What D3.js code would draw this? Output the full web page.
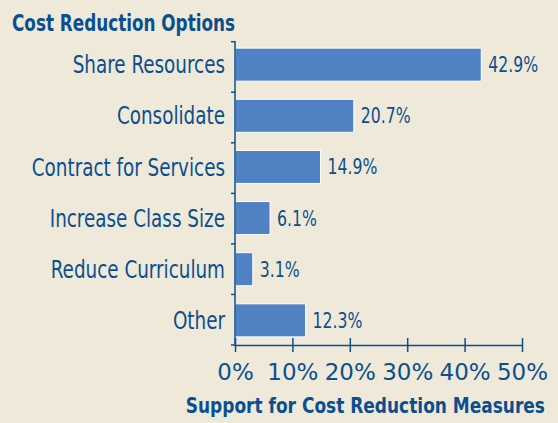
<!DOCTYPE html>
<html>
<head>
<meta charset="utf-8">
<script src="https://cdn.jsdelivr.net/npm/d3@7"></script>
<style>
  body { margin: 0; background: #efe9da; }
  svg { display: block; }
  .lab { font-family: "DejaVu Sans Condensed", "Liberation Sans Narrow", sans-serif; fill: #0b4f8f; }
  .ttl { font-family: "DejaVu Sans Condensed", "Liberation Sans Narrow", sans-serif; font-weight: bold; fill: #0b4f8f; }
</style>
</head>
<body>
<svg id="chart" width="558" height="423"></svg>
<script>
// data
const categories = ["Share Resources", "Consolidate", "Contract for Services", "Increase Class Size", "Reduce Curriculum", "Other"];
const values = [42.9, 20.7, 14.9, 6.1, 3.1, 12.3];
const xTicks = [0, 10, 20, 30, 40, 50];

const svg = d3.select("#chart");
const ink = "#0b4f8f";

const x = d3.scaleLinear().domain([0, 50]).range([235, 522]);
const y = d3.scaleBand().domain(categories).range([42, 343]).paddingInner(0.354).paddingOuter(0.12);

// squeeze text horizontally to mimic the condensed face of the original
function condense(sel, f) {
  sel.each(function() {
    const w = this.getComputedTextLength();
    d3.select(this).attr("textLength", w * f).attr("lengthAdjust", "spacingAndGlyphs");
  });
}

// title
svg.append("text").attr("class", "ttl")
  .attr("x", 12).attr("y", 31)
  .attr("font-size", 23)
  .text("Cost Reduction Options")
  .attr("textLength", 223).attr("lengthAdjust", "spacingAndGlyphs");

// bars
svg.selectAll(".bar")
  .data(categories)
  .enter().append("rect")
  .attr("x", x(0))
  .attr("y", d => y(d))
  .attr("width", (d, i) => x(values[i]) - x(0))
  .attr("height", y.bandwidth())
  .attr("fill", "#4f81c3")
  .attr("stroke", "#ffffff")
  .attr("stroke-width", 1);

// value labels
svg.selectAll(".val")
  .data(categories)
  .enter().append("text")
  .attr("class", "lab")
  .attr("x", (d, i) => x(values[i]) + 7)
  .attr("y", d => y(d) + y.bandwidth() / 2)
  .attr("dy", "0.36em")
  .attr("font-size", 21)
  .text((d, i) => values[i].toFixed(1) + "%")
  .call(condense, 0.83);

// y axis: line with ticks between categories
const yAxis = svg.append("g");
yAxis.append("line")
  .attr("x1", x(0)).attr("x2", x(0))
  .attr("y1", 41).attr("y2", 345)
  .attr("stroke", ink).attr("stroke-width", 1.5);
yAxis.selectAll(".ytick")
  .data(d3.range(categories.length + 1))
  .enter().append("line")
  .attr("x1", x(0) - 4).attr("x2", x(0))
  .attr("y1", i => 41.7 + i * 303.3 / categories.length)
  .attr("y2", i => 41.7 + i * 303.3 / categories.length)
  .attr("stroke", ink).attr("stroke-width", 1.5);

// category labels
svg.selectAll(".cat")
  .data(categories)
  .enter().append("text")
  .attr("class", "lab")
  .attr("x", 225)
  .attr("y", d => y(d) + y.bandwidth() / 2)
  .attr("dy", "0.36em")
  .attr("text-anchor", "end")
  .attr("font-size", 24)
  .text(d => d)
  .call(condense, 0.85);

// x axis
const xAxis = svg.append("g").attr("transform", "translate(0,345)")
  .call(d3.axisBottom(x).tickValues(xTicks).tickSize(7).tickSizeOuter(0).tickFormat(d => d + "%"));
xAxis.select(".domain").attr("stroke", ink).attr("stroke-width", 1.5);
xAxis.selectAll(".tick line").attr("stroke", ink).attr("stroke-width", 1.5).attr("y1", -7).attr("y2", 7);
xAxis.selectAll(".tick text")
  .attr("fill", ink)
  .attr("font-family", "'DejaVu Sans', sans-serif")
  .attr("font-size", 23)
  .attr("y", 19)
  .attr("dy", "0.71em");

// axis title
svg.append("text").attr("class", "ttl")
  .attr("transform", "translate(545,413) scale(0.9,1)")
  .attr("text-anchor", "end")
  .attr("font-size", 21)
  .text("Support for Cost Reduction Measures");
</script>
</body>
</html>
